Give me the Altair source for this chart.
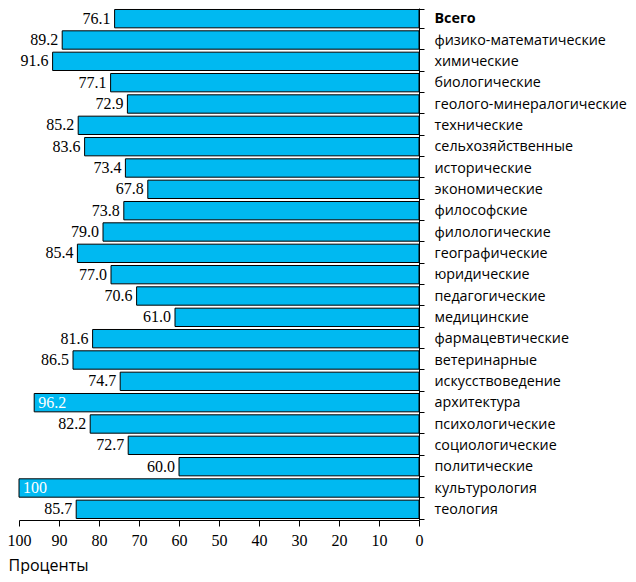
import altair as alt
import pandas as pd

categories = [
    "Всего", "физико-математические", "химические", "биологические",
    "геолого-минералогические", "технические", "сельхозяйственные",
    "исторические", "экономические", "философские", "филологические",
    "географические", "юридические", "педагогические", "медицинские",
    "фармацевтические", "ветеринарные", "искусствоведение", "архитектура",
    "психологические", "социологические", "политические", "культурология",
    "теология",
]
values = [76.1, 89.2, 91.6, 77.1, 72.9, 85.2, 83.6, 73.4, 67.8, 73.8, 79.0,
          85.4, 77.0, 70.6, 61.0, 81.6, 86.5, 74.7, 96.2, 82.2, 72.7, 60.0,
          100.0, 85.7]
value_labels = ["76.1", "89.2", "91.6", "77.1", "72.9", "85.2", "83.6", "73.4",
                "67.8", "73.8", "79.0", "85.4", "77.0", "70.6", "61.0", "81.6",
                "86.5", "74.7", "96.2", "82.2", "72.7", "60.0", "100", "85.7"]
x_ticks = [0, 10, 20, 30, 40, 50, 60, 70, 80, 90, 100]

df = pd.DataFrame({"cat": categories, "val": values, "lab": value_labels})

NUM_FONT = "Liberation Sans Narrow"
CAT_FONT = "Open Sans"

y_enc = alt.Y(
    "cat:N", sort=categories,
    scale=alt.Scale(paddingInner=0.14, paddingOuter=0.07),
    axis=alt.Axis(
        orient="right", title=None, tickBand="extent", tickSize=5,
        tickColor="black", domainColor="black", labelPadding=10,
        labelFont=CAT_FONT, labelFontSize=14.3, labelColor="black",
        labelLimit=300,
        labelFontWeight=alt.expr("datum.value == 'Всего' ? 'bold' : 'normal'"),
    ),
)
x_enc = alt.X(
    "val:Q",
    scale=alt.Scale(domain=[0, 100], reverse=True, nice=False),
    axis=alt.Axis(
        values=x_ticks, labelOverlap=False, labelFlush=False,
        title="Проценты", titleAlign="left", titleX=-11, titleY=53,
        titleBaseline="bottom",
        titleFont=CAT_FONT, titleFontSize=16, titleFontWeight="normal",
        titleColor="black",
        labelFont=NUM_FONT, labelFontSize=16, labelColor="black",
        tickColor="black", domainColor="black", tickSize=6, labelPadding=6,
        grid=False,
    ),
)

base = alt.Chart(df).encode(x=x_enc, y=y_enc)

bars = base.mark_bar(color="#00B9F1", stroke="black", strokeWidth=1)

outside = base.transform_filter("datum.val < 95").mark_text(
    align="right", baseline="middle", dx=-4, font=NUM_FONT, fontSize=16, color="black"
).encode(text="lab:N")

inside = base.transform_filter("datum.val >= 95").mark_text(
    align="left", baseline="middle", dx=4, font=NUM_FONT, fontSize=16, color="white"
).encode(text="lab:N")

chart = alt.layer(bars, outside, inside).properties(
    width=400, height=512,
    autosize=alt.AutoSizeParams(type="none"),
    padding={"left": 11, "top": 0, "right": 209, "bottom": 54},
).configure_view(stroke=None)

chart.save("out.html", embed_options={"renderer": "svg", "actions": False})
